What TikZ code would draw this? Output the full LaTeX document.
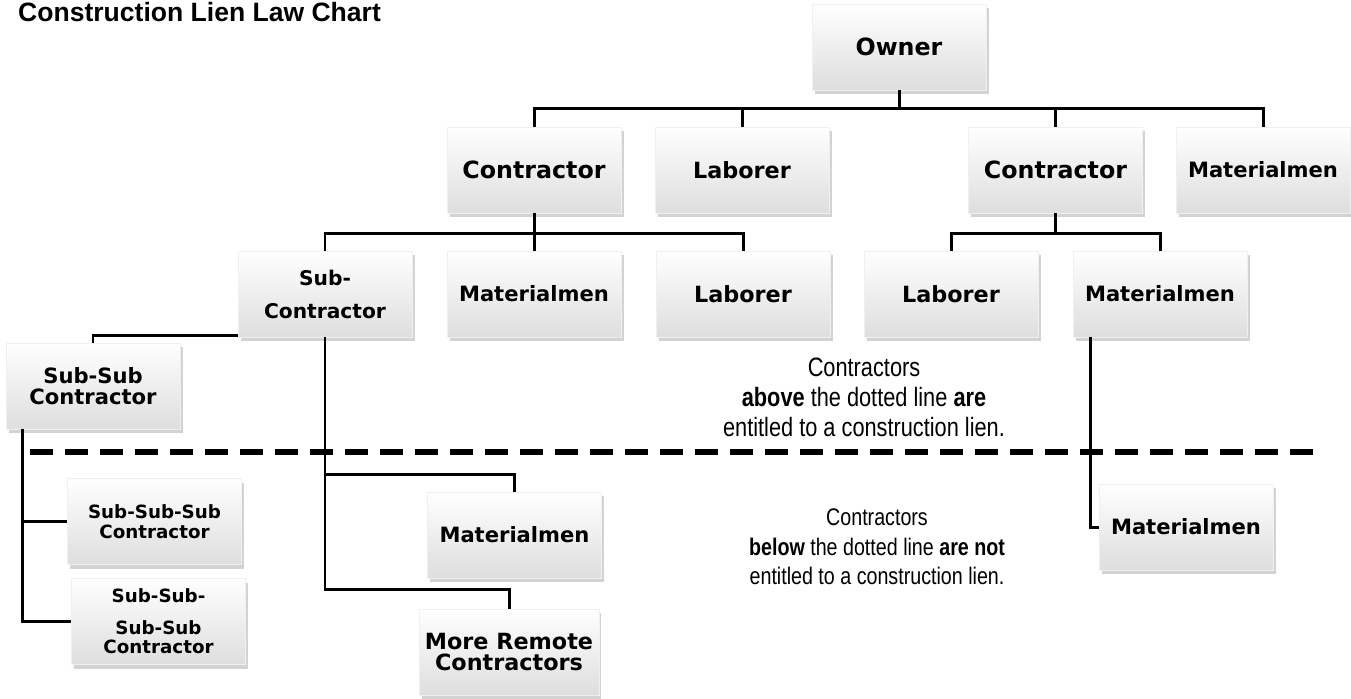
\documentclass[tikz,border=0pt]{standalone}
\usepackage{fontspec}
\setmainfont{DejaVu Sans}
\newfontfamily\notefont[FakeStretch=0.82]{Liberation Sans}
\newfontfamily\titlefont{Liberation Sans}
\usetikzlibrary{shadows}

\begin{document}
\begin{tikzpicture}[
    lien/.style={rectangle, minimum width=3.48cm, minimum height=1.72cm, align=center,
        top color=white, bottom color=black!13, draw=black!6,
        drop shadow={shadow xshift=0.05cm, shadow yshift=-0.08cm, opacity=0.35}},
    sizebig/.style={font=\bfseries\fontsize{13.5}{15}\selectfont},
    sizemid/.style={font=\bfseries\fontsize{12.7}{12.3}\selectfont},
    sizesmall/.style={font=\bfseries\fontsize{12}{12}\selectfont},
    sizetiny/.style={font=\bfseries\fontsize{10.4}{11.2}\selectfont},
    link/.style={line width=1.7pt}]
            \useasboundingbox (0,0) rectangle (27.02,-13.96);
            \node[anchor=base west, font=\titlefont\bfseries\fontsize{15.1}{18}\selectfont] (title) at (0.24,-0.42) {Construction Lien Law Chart};
            % top rows
            \node[lien, sizebig] (owner) at (17.98,-0.94) {Owner};
            \node[lien, sizebig] (con1) at (10.68,-3.40) {Contractor};
            \node[lien, sizemid] (lab1) at (14.84,-3.40) {Laborer};
            \node[lien, sizebig] (con2) at (21.11,-3.40) {Contractor};
            \node[lien, sizesmall] (mat1) at (25.26,-3.40) {Materialmen};
            \node[lien, font=\bfseries\fontsize{11.5}{12}\selectfont] (subcon) at (6.50,-5.88) {Sub-\\[6.8pt]Contractor};
            \node[lien, sizesmall] (mat2) at (10.68,-5.88) {Materialmen};
            \node[lien, sizemid] (lab2) at (14.86,-5.88) {Laborer};
            \node[lien, sizemid] (lab3) at (19.02,-5.88) {Laborer};
            \node[lien, sizesmall] (mat3) at (23.20,-5.88) {Materialmen};
            \node[lien, sizesmall] (subsub) at (1.86,-7.72) {Sub-Sub\\Contractor};
            % below the line
            \node[lien, sizetiny] (sub3) at (3.09,-10.43) {Sub-Sub-Sub\\Contractor};
            \node[lien, sizetiny] (sub4) at (3.17,-12.43) {Sub-Sub-\\[6.5pt]Sub-Sub\\Contractor};
            \node[lien, sizesmall] (mat4) at (10.29,-10.70) {Materialmen};
            \node[lien, sizemid] (remote) at (10.18,-13.04) {More Remote\\Contractors};
            \node[lien, sizesmall] (mat5) at (23.72,-10.54) {Materialmen};
            \node[align=center, font=\notefont\fontsize{15.1}{17}\selectfont] (above) at (17.28,-7.94) {Contractors\\\textbf{above} the dotted line \textbf{are}\\entitled to a construction lien.};
            \node[align=center, font=\notefont\fontsize{13.65}{16.8}\selectfont] (below) at (17.54,-10.94) {Contractors\\\textbf{below} the dotted line \textbf{are not}\\entitled to a construction lien.};
            % connectors
            \coordinate (ownbus) at (0,-2.16);
            \coordinate (conbus) at (0,-4.66);
            \coordinate (matbend) at (0,-9.48);
            \coordinate (remotebend) at (0,-11.78);
            \draw[link] (con1.north) |- (mat1.north |- ownbus) -- (mat1.north);
            \draw[link] (owner.south) -- (owner.south |- ownbus);
            \draw[link] (lab1.north) -- (lab1.north |- ownbus);
            \draw[link] (con2.north) -- (con2.north |- ownbus);
            \draw[link] (subcon.north) |- (lab2.north |- conbus) -- (lab2.north);
            \draw[link] (con1.south) -- (mat2.north);
            \draw[link] (lab3.north) |- (mat3.north |- conbus) -- (mat3.north);
            \draw[link] (con2.south) -- (con2.south |- conbus);
            \draw[link] ([yshift=0.04cm]subcon.south west) -| (subsub.north);
            \draw[link] (subcon.south) |- (mat4.north |- matbend) -- (mat4.north);
            \draw[link] (subcon.south) |- (remote.north |- remotebend) -- (remote.north);
            \draw[link] ([xshift=0.34cm]subsub.south west) |- (sub3.west);
            \draw[link] ([xshift=0.34cm]subsub.south west) |- (sub4.west);
            \draw[link] ([xshift=0.36cm]mat3.south west) |- (mat5.west);
            % the lien line
            \coordinate (cutL) at (0.60,-9.04);
            \coordinate (cutR) at (26.36,-9.04);
            \draw[line width=0.12cm, dash pattern=on 0.46cm off 0.24cm] (cutL) -- (cutR);
        \end{tikzpicture}
\end{document}
